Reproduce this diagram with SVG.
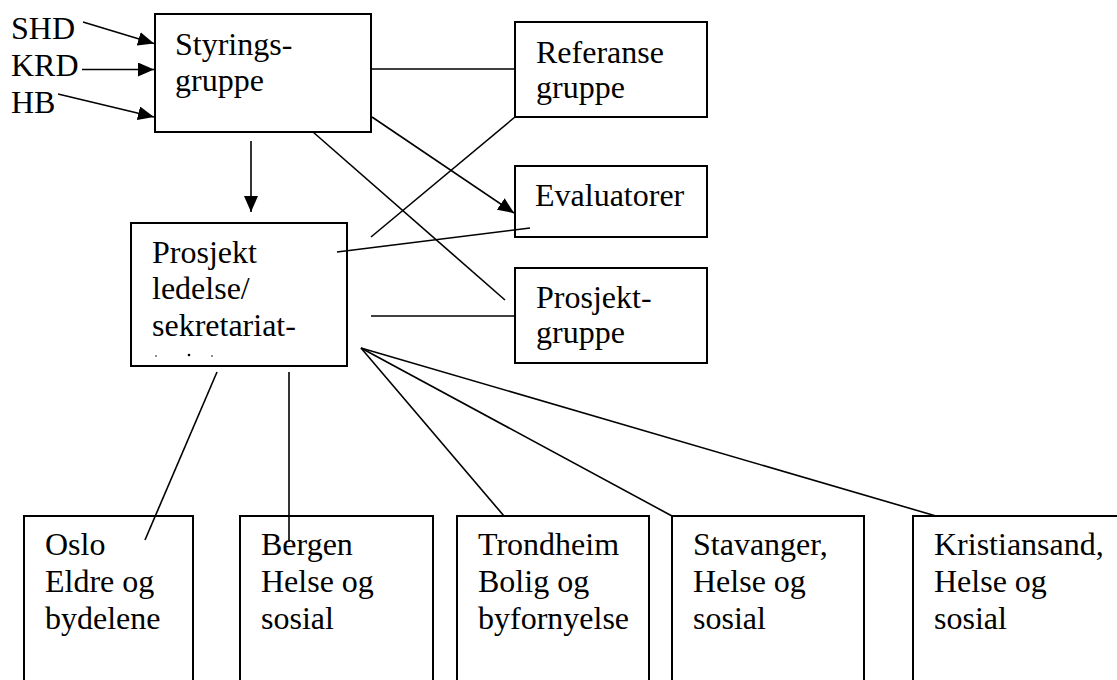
<svg xmlns="http://www.w3.org/2000/svg" width="1117" height="680" viewBox="0 0 1117 680">
<style>
.box{fill:#fff;stroke:#000;stroke-width:2}
.t{font-family:'Liberation Serif','Times New Roman',Tinos,serif;font-size:32px;fill:#000}
.ln{stroke:#000;stroke-width:1.6;fill:none}
.ar{stroke:#000;stroke-width:1.6;fill:none;marker-end:url(#ah)}
</style>
<defs>
<marker id="ah" markerUnits="userSpaceOnUse" markerWidth="17" markerHeight="14" refX="16" refY="7" orient="auto">
<path d="M0,0 L16,7 L0,14 z" fill="#000"/>
</marker>
</defs>
<rect width="1117" height="680" fill="#fff"/>
<g font-family="Liberation Serif, Times New Roman, serif">
<g id="styringsgruppe">
<rect class="box" x="155" y="14" width="216" height="118"/>
<text class="t" x="175" y="55">Styrings-</text>
<text class="t" x="175" y="91">gruppe</text>
</g>
<g id="referansegruppe">
<rect class="box" x="515" y="22" width="192" height="95"/>
<text class="t" x="536" y="63">Referanse</text>
<text class="t" x="536" y="98">gruppe</text>
</g>
<g id="evaluatorer">
<rect class="box" x="515" y="166" width="192" height="71"/>
<text class="t" x="535" y="206">Evaluatorer</text>
</g>
<g id="prosjektgruppe">
<rect class="box" x="515" y="268" width="192" height="95"/>
<text class="t" x="536" y="308">Prosjekt-</text>
<text class="t" x="536" y="343">gruppe</text>
</g>
<g id="prosjektledelse">
<rect class="box" x="131" y="223" width="216" height="143"/>
<text class="t" x="152" y="263">Prosjekt</text>
<text class="t" x="152" y="299">ledelse/</text>
<text class="t" x="152" y="336">sekretariat-</text>
<circle cx="156" cy="356" r="0.8" fill="#000"/>
<circle cx="189" cy="355" r="1.3" fill="#000"/>
<circle cx="212" cy="356" r="0.8" fill="#000"/>
</g>
<g id="oslo">
<rect class="box" x="24" y="516" width="169" height="200"/>
<text class="t" x="45" y="555">Oslo</text>
<text class="t" x="45" y="592">Eldre og</text>
<text class="t" x="45" y="629">bydelene</text>
</g>
<g id="bergen">
<rect class="box" x="240" y="516" width="193" height="200"/>
<text class="t" x="261" y="555">Bergen</text>
<text class="t" x="261" y="592">Helse og</text>
<text class="t" x="261" y="629">sosial</text>
</g>
<g id="trondheim">
<rect class="box" x="457" y="516" width="192" height="200"/>
<text class="t" x="478" y="555">Trondheim</text>
<text class="t" x="478" y="592">Bolig og</text>
<text class="t" x="478" y="629">byfornyelse</text>
</g>
<g id="stavanger">
<rect class="box" x="672" y="516" width="192" height="200"/>
<text class="t" x="693" y="555">Stavanger,</text>
<text class="t" x="693" y="592">Helse og</text>
<text class="t" x="693" y="629">sosial</text>
</g>
<g id="kristiansand">
<rect class="box" x="913" y="516" width="230" height="200"/>
<text class="t" x="934" y="555">Kristiansand,</text>
<text class="t" x="934" y="592">Helse og</text>
<text class="t" x="934" y="629">sosial</text>
</g>
<g id="labels">
<text class="t" x="11" y="39">SHD</text>
<text class="t" x="11" y="76">KRD</text>
<text class="t" x="11" y="113">HB</text>
</g>
</g>
<g id="connectors">
<line class="ar" x1="83" y1="22" x2="154" y2="43.5"/>
<line class="ar" x1="82" y1="69.5" x2="154" y2="69.5"/>
<line class="ar" x1="58" y1="94" x2="154" y2="117"/>
<line class="ln" x1="371" y1="69" x2="515" y2="69"/>
<line class="ar" x1="372" y1="117" x2="514" y2="213"/>
<line class="ln" x1="313" y1="132" x2="505" y2="300"/>
<line class="ln" x1="515" y1="117" x2="371" y2="237"/>
<line class="ln" x1="337" y1="252" x2="530" y2="228"/>
<line class="ln" x1="371" y1="316" x2="515" y2="316"/>
<line class="ar" x1="251" y1="141" x2="251" y2="212"/>
<line class="ln" x1="217" y1="372" x2="145" y2="540"/>
<line class="ln" x1="289" y1="372" x2="289" y2="542"/>
<line class="ln" x1="361" y1="348" x2="504" y2="516"/>
<line class="ln" x1="361" y1="348" x2="672" y2="516"/>
<line class="ln" x1="361" y1="348" x2="936" y2="516"/>
</g>
</svg>
